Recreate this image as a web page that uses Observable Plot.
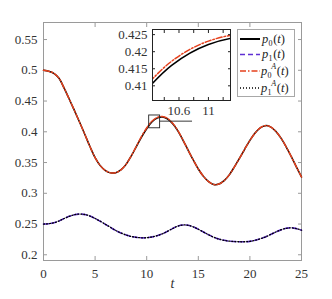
<!DOCTYPE html>
<html><head><meta charset="utf-8">
<script src="https://cdn.jsdelivr.net/npm/d3@7"></script>
<script src="https://cdn.jsdelivr.net/npm/@observablehq/plot@0.6"></script>
<style>
body{margin:0;background:#fff;}
#wrap{position:relative;width:332px;height:299px;overflow:hidden;}
#wrap svg{position:absolute;}
#wrap text{font-family:"Liberation Serif",serif;}
</style>
</head><body><div id="wrap"></div>
<script>
// ---- data ----
const t = [0,0.5,1,1.5,2,2.5,3,3.5,4,4.5,5,5.5,6,6.5,7,7.5,8,8.5,9,9.5,10,10.5,11,11.5,12,12.5,13,13.5,14,14.5,15,15.5,16,16.5,17,17.5,18,18.5,19,19.5,20,20.5,21,21.5,22,22.5,23,23.5,24,24.5,25];
const p0 = [0.5000,0.4985,0.4950,0.4870,0.4710,0.4530,0.4345,0.4155,0.3960,0.3760,0.3580,0.3450,0.3370,0.3332,0.3335,0.3380,0.3470,0.3605,0.3760,0.3915,0.4050,0.4160,0.4221,0.4242,0.4210,0.4135,0.4020,0.3870,0.3705,0.3545,0.3395,0.3275,0.3190,0.3142,0.3150,0.3205,0.3300,0.3430,0.3570,0.3720,0.3860,0.3980,0.4065,0.4100,0.4080,0.4010,0.3900,0.3760,0.3600,0.3430,0.3265];
const p1 = [0.2500,0.2505,0.2520,0.2550,0.2590,0.2625,0.2652,0.2662,0.2655,0.2630,0.2590,0.2545,0.2495,0.2445,0.2395,0.2355,0.2322,0.2298,0.2283,0.2276,0.2278,0.2290,0.2310,0.2340,0.2380,0.2425,0.2465,0.2484,0.2480,0.2455,0.2415,0.2370,0.2325,0.2285,0.2255,0.2235,0.2222,0.2215,0.2212,0.2212,0.2218,0.2235,0.2260,0.2290,0.2330,0.2370,0.2405,0.2430,0.2438,0.2425,0.2400];
const p0A = [0.5000,0.4985,0.4950,0.4870,0.4710,0.4530,0.4345,0.4155,0.3960,0.3760,0.3580,0.3450,0.3370,0.3332,0.3335,0.3380,0.3470,0.3607,0.3765,0.3925,0.4062,0.4172,0.4231,0.4250,0.4220,0.4142,0.4024,0.3872,0.3705,0.3545,0.3395,0.3275,0.3190,0.3142,0.3150,0.3205,0.3300,0.3430,0.3570,0.3720,0.3860,0.3980,0.4065,0.4100,0.4080,0.4010,0.3900,0.3760,0.3600,0.3430,0.3265];
const p1A = [0.2500,0.2505,0.2520,0.2550,0.2590,0.2625,0.2652,0.2662,0.2655,0.2630,0.2590,0.2545,0.2495,0.2445,0.2395,0.2355,0.2322,0.2298,0.2283,0.2276,0.2278,0.2290,0.2310,0.2340,0.2380,0.2425,0.2465,0.2484,0.2480,0.2455,0.2415,0.2370,0.2325,0.2285,0.2255,0.2235,0.2222,0.2215,0.2212,0.2212,0.2218,0.2235,0.2260,0.2290,0.2330,0.2370,0.2405,0.2430,0.2438,0.2425,0.2400];

const xTicks = [0,5,10,15,20,25];
const yTicks = [0.2,0.25,0.3,0.35,0.4,0.45,0.5,0.55];
const xDomain = [0,25];
const yDomain = [0.1907,0.5777];

const insetX = [10.24,11.3];
const insetY = [0.4057,0.4265];
const insetXTicks = [10.4,10.6,10.8,11,11.2];
const insetXLabels = [10.6,11];
const insetYTicks = [0.41,0.415,0.42,0.425];
const connectorY = 0.4173;
const connectorX = [11.3,14.44];

const legendLabels = [
  {sub:"0", sup:null},
  {sub:"1", sup:null},
  {sub:"0", sup:"A"},
  {sub:"1", sup:"A"}
];

// ---- styles ----
const purple = "#5f2fd3";
const red = "#e5401c";
const series = [
  {vals:p0,  stroke:"#000", dash:null,          width:1.5},
  {vals:p1,  stroke:purple, dash:"5,3",         width:1.6},
  {vals:p0A, stroke:red,    dash:"6,2,1.5,2",   width:1.5},
  {vals:p1A, stroke:"#000", dash:"1,2",         width:1.3}
];
const rows = s => t.map((x,i)=>({t:x, v:s.vals[i]}));
const FONT = "Liberation Serif";
const axisGray = "#9a9a9a";
const textCol = "#333";

const wrap = document.getElementById("wrap");

// ---- main chart ----
const main = Plot.plot({
  width:332, height:299,
  marginLeft:43, marginRight:31, marginTop:22, marginBottom:39,
  style:{fontFamily:FONT, fontSize:"13px", background:"transparent", color:textCol},
  x:{domain:xDomain, label:null},
  y:{domain:yDomain, label:null},
  marks:[
    Plot.axisX(xTicks,{anchor:"bottom", tickSize:-4, tickPadding:12, stroke:axisGray, fill:textCol, fontFamily:FONT, fontSize:13, tickFormat:d=>String(d), label:null}),
    Plot.axisX(xTicks,{anchor:"top", tickSize:-4, stroke:axisGray, tickFormat:()=>"", label:null}),
    Plot.axisY(yTicks,{anchor:"left", tickSize:-4, tickPadding:10, stroke:axisGray, fill:textCol, fontFamily:FONT, fontSize:13, tickFormat:d=>String(d), label:null}),
    Plot.axisY(yTicks,{anchor:"right", tickSize:-4, stroke:axisGray, tickFormat:()=>"", label:null}),
    Plot.frame({stroke:axisGray}),
    ...series.map(s=>Plot.line(rows(s),{x:"t", y:"v", stroke:s.stroke, strokeWidth:s.width, strokeDasharray:s.dash, curve:"catmull-rom"})),
    Plot.rect([{x1:insetX[0], x2:insetX[1], y1:insetY[0], y2:insetY[1]}],{x1:"x1",x2:"x2",y1:"y1",y2:"y2", fill:"none", stroke:"#222", strokeWidth:0.9}),
    Plot.ruleY([connectorY],{x1:connectorX[0], x2:connectorX[1], stroke:"#222", strokeWidth:0.9}),
    Plot.text(["t"],{frameAnchor:"bottom", dy:27, fontStyle:"italic", fontSize:14, fontFamily:FONT, fill:textCol})
  ]
});
main.style.left="0px"; main.style.top="0px";
wrap.appendChild(main);

// ---- inset chart ----
const inset = Plot.plot({
  width:120, height:93,
  marginLeft:40, marginRight:2, marginTop:2, marginBottom:20,
  style:{fontFamily:FONT, fontSize:"13px", background:"transparent", color:textCol},
  x:{domain:insetX, label:null},
  y:{domain:insetY, label:null},
  marks:[
    Plot.frame({fill:"white"}),
    Plot.line(rows(series[0]),{x:"t", y:"v", stroke:"#000", strokeWidth:1.5, curve:"catmull-rom", clip:true}),
    Plot.line(rows(series[2]),{x:"t", y:"v", stroke:red, strokeWidth:1.5, strokeDasharray:"6,2,1.5,2", curve:"catmull-rom", clip:true}),
    Plot.axisX(insetXTicks,{anchor:"bottom", tickSize:-3, tickPadding:8, stroke:"#222", fill:textCol, fontFamily:FONT, fontSize:13, tickFormat:d=>insetXLabels.includes(d)?String(d):"", label:null}),
    Plot.axisX(insetXTicks,{anchor:"top", tickSize:-3, stroke:"#222", tickFormat:()=>"", label:null}),
    Plot.axisY(insetYTicks,{anchor:"left", tickSize:-3, tickPadding:8, stroke:"#222", fill:textCol, fontFamily:FONT, fontSize:13, tickFormat:d=>String(d), label:null}),
    Plot.axisY(insetYTicks,{anchor:"right", tickSize:-3, stroke:"#222", tickFormat:()=>"", label:null}),
    Plot.frame({stroke:"#222"})
  ]
});
inset.style.left="112px"; inset.style.top="27px";
wrap.appendChild(inset);

// ---- legend (inside the axes, top right) ----
const leg = d3.select(wrap).append("svg")
  .attr("width",332).attr("height",299)
  .style("left","0px").style("top","0px");
leg.append("rect").attr("x",237.5).attr("y",29.5).attr("width",57).attr("height",67)
  .attr("fill","white").attr("stroke","#a8a8a8").attr("stroke-width",1);
const baselines = [42.5,58,74.5,91.5];
legendLabels.forEach((lab,i)=>{
  const s = series[i];
  const base = baselines[i];
  const ly = base-3.5;
  leg.append("line").attr("x1",240).attr("x2",260).attr("y1",ly).attr("y2",ly)
    .attr("stroke",s.stroke).attr("stroke-width",i===0?2:1.6)
    .attr("stroke-dasharray",s.dash);
  const txt = leg.append("text").attr("x",lab.sup?261:262).attr("y",base)
    .attr("font-family",FONT).attr("font-size",12.5).attr("fill","#222");
  txt.append("tspan").attr("font-style","italic").text("p");
  const subDy = 3;
  txt.append("tspan").attr("font-size",8).attr("dx",0.3).attr("dy",subDy).text(lab.sub);
  let back = -subDy;
  if(lab.sup){
    txt.append("tspan").attr("font-size",8).attr("font-style","italic").attr("dx",-0.3).attr("dy",-8.5).text(lab.sup);
    back = 5.5;
  }
  txt.append("tspan").attr("dx",0.6).attr("dy",back).text("(");
  txt.append("tspan").attr("font-style","italic").text("t");
  txt.append("tspan").text(")");
});
</script>
</body></html>
